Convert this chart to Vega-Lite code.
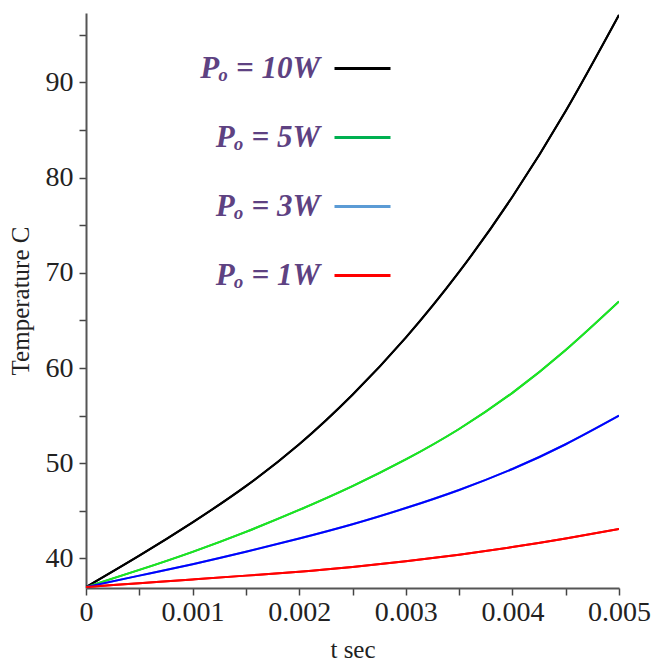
{
  "$schema": "https://vega.github.io/schema/vega-lite/v6.json",
  "width": 533,
  "height": 575,
  "autosize": {"type": "none"},
  "padding": {"left": 86, "top": 13, "right": 35, "bottom": 73},
  "background": "white",
  "config": {"view": {"stroke": null}},
  "data": {
    "values": [
      {"P": "Pₒ = 10W", "t": 0, "T": 37.0},
      {"P": "Pₒ = 10W", "t": 0.0005, "T": 40.3},
      {"P": "Pₒ = 10W", "t": 0.001, "T": 43.8},
      {"P": "Pₒ = 10W", "t": 0.0015, "T": 47.6},
      {"P": "Pₒ = 10W", "t": 0.002, "T": 52.0},
      {"P": "Pₒ = 10W", "t": 0.0025, "T": 57.2},
      {"P": "Pₒ = 10W", "t": 0.003, "T": 63.2},
      {"P": "Pₒ = 10W", "t": 0.0035, "T": 70.1},
      {"P": "Pₒ = 10W", "t": 0.004, "T": 78.0},
      {"P": "Pₒ = 10W", "t": 0.0045, "T": 87.0},
      {"P": "Pₒ = 10W", "t": 0.005, "T": 97.1},
      {"P": "Pₒ = 5W", "t": 0, "T": 37.0},
      {"P": "Pₒ = 5W", "t": 0.0005, "T": 38.8},
      {"P": "Pₒ = 5W", "t": 0.001, "T": 40.7},
      {"P": "Pₒ = 5W", "t": 0.0015, "T": 42.8},
      {"P": "Pₒ = 5W", "t": 0.002, "T": 45.1},
      {"P": "Pₒ = 5W", "t": 0.0025, "T": 47.6},
      {"P": "Pₒ = 5W", "t": 0.003, "T": 50.4},
      {"P": "Pₒ = 5W", "t": 0.0035, "T": 53.6},
      {"P": "Pₒ = 5W", "t": 0.004, "T": 57.4},
      {"P": "Pₒ = 5W", "t": 0.0045, "T": 61.9},
      {"P": "Pₒ = 5W", "t": 0.005, "T": 67.0},
      {"P": "Pₒ = 3W", "t": 0, "T": 37.0},
      {"P": "Pₒ = 3W", "t": 0.0005, "T": 38.2},
      {"P": "Pₒ = 3W", "t": 0.001, "T": 39.4},
      {"P": "Pₒ = 3W", "t": 0.0015, "T": 40.7},
      {"P": "Pₒ = 3W", "t": 0.002, "T": 42.1},
      {"P": "Pₒ = 3W", "t": 0.0025, "T": 43.6},
      {"P": "Pₒ = 3W", "t": 0.003, "T": 45.3},
      {"P": "Pₒ = 3W", "t": 0.0035, "T": 47.2},
      {"P": "Pₒ = 3W", "t": 0.004, "T": 49.4},
      {"P": "Pₒ = 3W", "t": 0.0045, "T": 52.0},
      {"P": "Pₒ = 3W", "t": 0.005, "T": 55.0},
      {"P": "Pₒ = 1W", "t": 0, "T": 37.0},
      {"P": "Pₒ = 1W", "t": 0.0005, "T": 37.4},
      {"P": "Pₒ = 1W", "t": 0.001, "T": 37.8},
      {"P": "Pₒ = 1W", "t": 0.0015, "T": 38.2},
      {"P": "Pₒ = 1W", "t": 0.002, "T": 38.6},
      {"P": "Pₒ = 1W", "t": 0.0025, "T": 39.1},
      {"P": "Pₒ = 1W", "t": 0.003, "T": 39.7},
      {"P": "Pₒ = 1W", "t": 0.0035, "T": 40.4},
      {"P": "Pₒ = 1W", "t": 0.004, "T": 41.2},
      {"P": "Pₒ = 1W", "t": 0.0045, "T": 42.1},
      {"P": "Pₒ = 1W", "t": 0.005, "T": 43.1}
    ]
  },
  "encoding": {
    "x": {
      "field": "t",
      "type": "quantitative",
      "scale": {"domain": [0, 0.005], "nice": false, "zero": false},
      "axis": {
        "title": "t sec",
        "values": [0, 0.0005, 0.001, 0.0015, 0.002, 0.0025, 0.003, 0.0035, 0.004, 0.0045, 0.005],
        "labelExpr": "round(datum.value*2000) % 2 === 0 ? (datum.value === 0 ? '0' : format(datum.value, '.3f')) : ''",
        "grid": false,
        "domainColor": "#555555",
        "domainWidth": 2,
        "tickColor": "#444444",
        "tickSize": 7,
        "tickWidth": 1.5,
        "labelFont": "Liberation Serif",
        "labelFontSize": 28,
        "labelColor": "#222222",
        "labelPadding": 3,
        "labelFlush": false,
        "labelOverlap": false,
        "titleFont": "Liberation Serif",
        "titleFontSize": 25,
        "titleFontWeight": "normal",
        "titleColor": "#222222",
        "titlePadding": 11
      }
    },
    "y": {
      "field": "T",
      "type": "quantitative",
      "scale": {"domain": [36.9, 97.3], "nice": false, "zero": false},
      "axis": {
        "title": "Temperature C",
        "values": [40, 45, 50, 55, 60, 65, 70, 75, 80, 85, 90, 95],
        "labelExpr": "datum.value % 10 === 0 ? datum.label : ''",
        "grid": false,
        "domainColor": "#555555",
        "domainWidth": 2,
        "tickColor": "#444444",
        "tickSize": 7,
        "tickWidth": 1.5,
        "labelFont": "Liberation Serif",
        "labelFontSize": 28,
        "labelColor": "#222222",
        "labelPadding": 6,
        "labelFlush": false,
        "labelOverlap": false,
        "titleFont": "Liberation Serif",
        "titleFontSize": 25,
        "titleFontWeight": "normal",
        "titleColor": "#222222",
        "titlePadding": 12
      }
    }
  },
  "layer": [
    {
      "mark": {"type": "line", "strokeWidth": 2, "interpolate": "natural", "clip": true},
      "encoding": {
        "color": {
          "field": "P",
          "type": "nominal",
          "sort": null,
          "scale": {
            "domain": ["Pₒ = 10W", "Pₒ = 5W", "Pₒ = 3W", "Pₒ = 1W"],
            "range": ["#000000", "#00b050", "#5b9bd5", "#ff0000"]
          },
          "legend": {
            "orient": "none",
            "legendX": 247,
            "legendY": 26,
            "title": null,
            "padding": 0,
            "symbolType": "stroke",
            "symbolSize": 3136,
            "symbolStrokeWidth": 3,
            "labelFont": "Liberation Serif",
            "labelFontSize": 31,
            "labelFontStyle": "italic",
            "labelFontWeight": "bold",
            "labelColor": "#5e4282",
            "labelAlign": "right",
            "labelOffset": -72,
            "labelLimit": 0,
            "rowPadding": 24
          }
        }
      }
    },
    {
      "mark": {"type": "line", "strokeWidth": 2, "interpolate": "natural", "clip": true},
      "encoding": {
        "stroke": {
          "field": "P",
          "type": "nominal",
          "sort": null,
          "scale": {
            "domain": ["Pₒ = 10W", "Pₒ = 5W", "Pₒ = 3W", "Pₒ = 1W"],
            "range": ["#000000", "#1ee61e", "#0000ff", "#ff0000"]
          },
          "legend": null
        }
      }
    }
  ]
}
